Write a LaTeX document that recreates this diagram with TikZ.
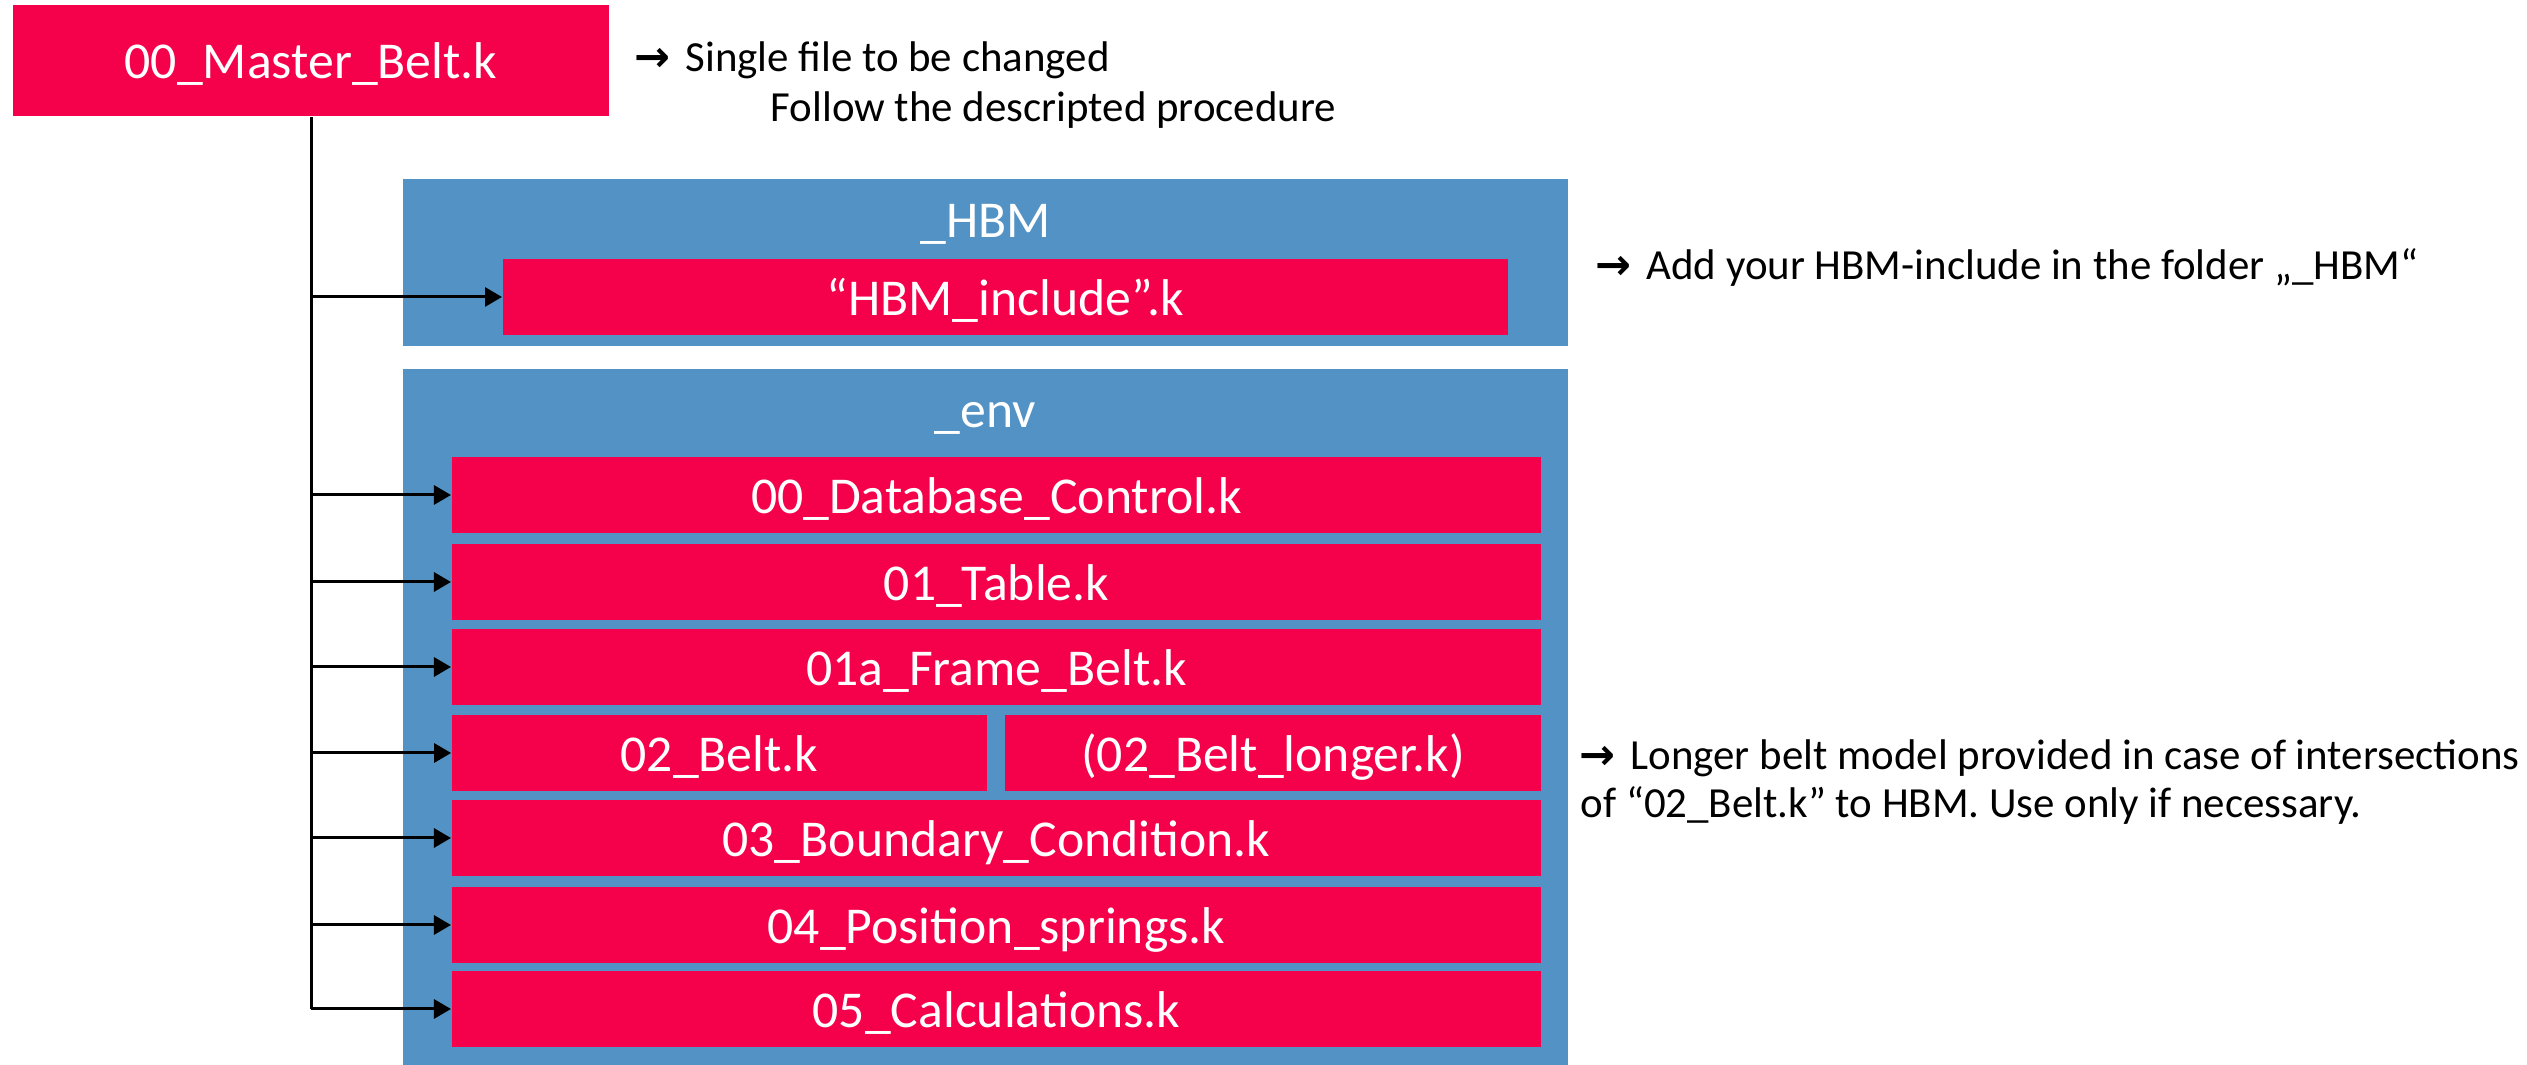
\documentclass[tikz,border=0pt]{standalone}
\usepackage{fontspec}
\setmainfont{Carlito}
\newfontfamily\arrowfont{DejaVu Sans Bold}
\usetikzlibrary{arrows.meta}
\definecolor{boxred}{HTML}{F5004A}
\definecolor{boxblue}{HTML}{5292C4}
\newcommand{\rarr}{{\arrowfont\char"2192}\hspace{0.12em}}
\begin{document}
\begin{tikzpicture}[x=0.01cm,y=-0.01cm,
  redbox/.style={fill=boxred, text=white, inner sep=0pt, text height=0.37cm, text depth=0pt, font=\fontsize{14.7}{17}\selectfont},
  rowbox/.style={redbox, minimum width=10.89cm, minimum height=0.75cm},
  bluebox/.style={fill=boxblue, inner sep=0pt, minimum width=11.65cm},
  folder/.style={text=white, inner sep=0pt, anchor=base, font=\fontsize{14.7}{17}\selectfont},
  note/.style={anchor=base west, inner sep=0pt, font=\fontsize{12.2}{14}\selectfont},
  link/.style={line width=0.03cm, -{Triangle[length=0.17cm,width=0.19cm]}},
  trunk/.style={line width=0.03cm}]
\useasboundingbox (0,0) rectangle (2527,1065);

% master
\node[redbox, minimum width=5.96cm, minimum height=1.11cm] (master) at (311,60.5) {00\_Master\_Belt.k};
\node[note] (n1) at (634,72) {\rarr{} Single file to be changed};
\node[note] (n2) at (770,122) {Follow the descripted procedure};

% HBM folder
\node[bluebox, minimum height=1.67cm] (hbm) at (985.5,262.5) {};
\node[folder] (hbmlabel) at (985.5,238) {\_HBM};
\node[redbox, minimum width=10.05cm, minimum height=0.76cm] (hbminc) at (1005.5,297) {“HBM\_include”.k};
\node[note] (n3) at (1595,280) {\rarr{} Add your HBM-include in the folder „\_HBM“};

% env folder
\node[bluebox, minimum height=6.96cm] (env) at (985.5,717) {};
\node[folder] (envlabel) at (985.5,428) {\_env};
\node[rowbox] (r1) at (996.5,495) {00\_Database\_Control.k};
\node[rowbox] (r2) at (996.5,582) {01\_Table.k};
\node[rowbox] (r3) at (996.5,667) {01a\_Frame\_Belt.k};
\node[redbox, minimum width=5.35cm, minimum height=0.75cm] (r4a) at (719.5,753) {02\_Belt.k};
\node[redbox, minimum width=5.36cm, minimum height=0.75cm] (r4b) at (1273,753) {(02\_Belt\_longer.k)};
\node[rowbox] (r5) at (996.5,838) {03\_Boundary\_Condition.k};
\node[rowbox] (r6) at (996.5,925) {04\_Position\_springs.k};
\node[rowbox] (r7) at (996.5,1009) {05\_Calculations.k};
\node[note] (n4) at (1579,770) {\rarr{} Longer belt model provided in case of intersections};
\node[note] (n5) at (1580,818) {of “02\_Belt.k” to HBM. Use only if necessary.};

% connectors
\draw[trunk] (master.south) -- (master.south |- r7.west);
\foreach \t in {hbminc,r1,r2,r3,r4a,r5,r6,r7}{
  \draw[link] (master.south |- \t.west) -- (\t.west);
}
\end{tikzpicture}
\end{document}
